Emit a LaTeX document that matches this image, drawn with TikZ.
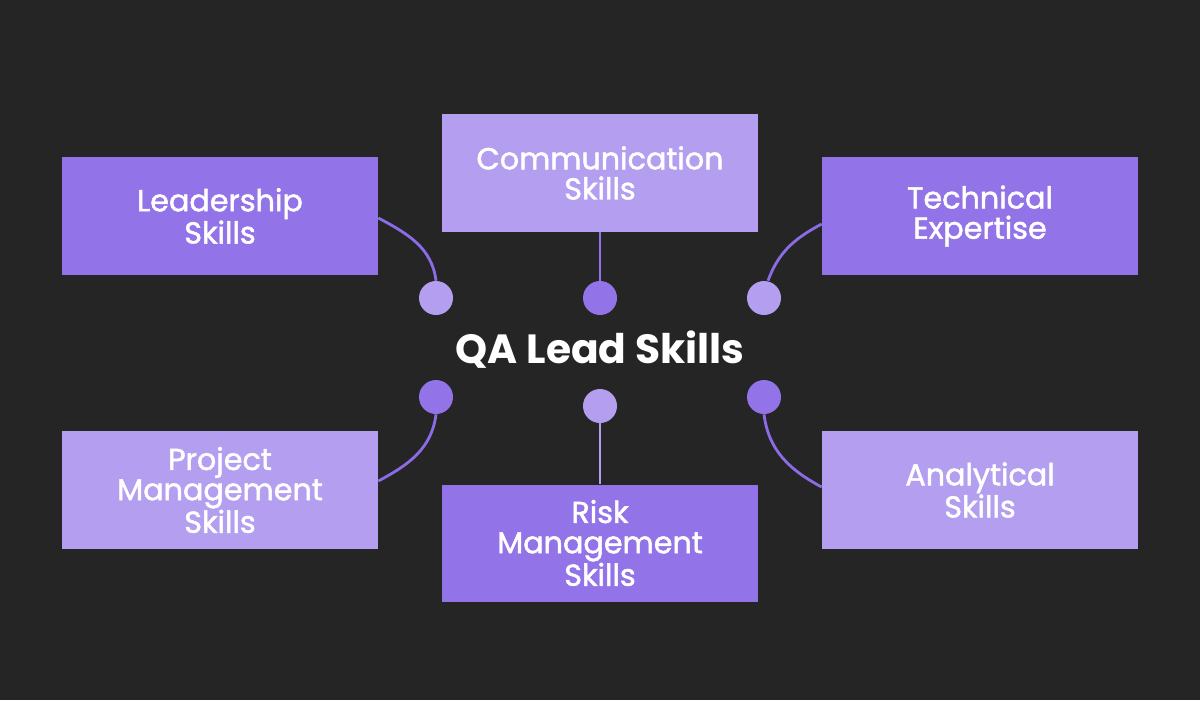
\documentclass[tikz,border=0pt]{standalone}
\usepackage{fontspec}
\setmainfont{Poppins}
\newfontfamily\skillfont[FakeBold=1.6]{Poppins}
\usepackage{tikz}
\usetikzlibrary{positioning,calc}
\usepackage{xcolor}
\definecolor{Bg}{HTML}{252525}
\definecolor{DeepViolet}{HTML}{9373E8}
\definecolor{SoftViolet}{HTML}{B49EF0}
\definecolor{Wire}{HTML}{8C6CE6}
\tikzset{
 skill/.style={minimum width=7.9cm, minimum height=2.925cm, inner sep=0pt, align=center, text=white, font=\skillfont\fontsize{21.5}{21.5}\selectfont},
 deepskill/.style={skill, fill=DeepViolet},
 softskill/.style={skill, fill=SoftViolet},
 dot/.style={circle, minimum size=0.85cm, inner sep=0pt},
 deepdot/.style={dot, fill=DeepViolet},
 softdot/.style={dot, fill=SoftViolet},
 link/.style={draw=Wire, line width=2pt}
}

\begin{document}
\begin{tikzpicture}[x=0.025cm, y=-0.025cm]
\fill[Bg] (0,0) rectangle (1200,700);
\useasboundingbox (0,0) rectangle (1200,700);

% skill boxes
\node[deepskill] (lead) at (220,216) {Leadership\\Skills};
\node[softskill] (comm) at (600,173) {Communication\\Skills};
\node[deepskill] (tech) at (980,216) {Technical\\Expertise};
\node[softskill] (proj) at (220,490) {Project\\Management\\Skills};
\node[deepskill] (risk) at (600,543) {Risk\\Management\\Skills};
\node[softskill] (anly) at (980,490) {Analytical\\Skills};

% title
\node[text=white, font=\fontsize{29}{30}\selectfont\bfseries] (title) at (600,350) {QA Lead Skills};

% dots
\node[softdot] (dlead) at (436,298) {};
\node[deepdot] (dcomm) at (600,298) {};
\node[softdot] (dtech) at (764,298) {};
\node[deepdot] (dproj) at (436,397) {};
\node[softdot] (drisk) at (600,406) {};
\node[deepdot] (danly) at (764,397) {};

% connectors
\draw[link] ([yshift=-0.05cm]lead.east) to[out=-28,in=97] (dlead.north);
\draw[link, draw=DeepViolet] (comm.south) -- (dcomm.north);
\draw[link] ([xshift=0.1cm]dtech.north) to[out=70,in=208] ([yshift=-0.2cm]tech.west);
\draw[link] (dproj.south) to[out=-97,in=28] ([yshift=0.225cm]proj.east);
\draw[link, draw=SoftViolet] (drisk.south) -- (risk.north);
\draw[link] (danly.south) to[out=-83,in=152] ([yshift=0.075cm]anly.west);
\end{tikzpicture}
\end{document}
